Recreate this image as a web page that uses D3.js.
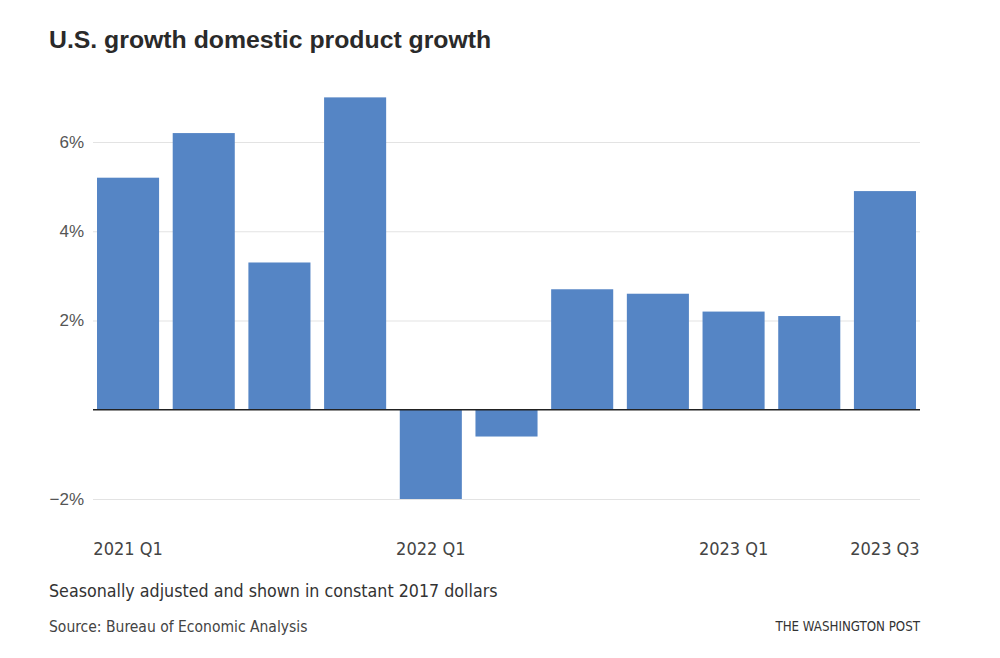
<!DOCTYPE html>
<html><head><meta charset="utf-8">
<script src="https://cdn.jsdelivr.net/npm/d3@7"></script>
<style>
body{margin:0;background:#fff;}
svg{display:block;}
</style></head>
<body>
<svg id="chart" width="1000" height="658"></svg>
<script>
const quarters = ["2021 Q1","2021 Q2","2021 Q3","2021 Q4","2022 Q1","2022 Q2","2022 Q3","2022 Q4","2023 Q1","2023 Q2","2023 Q3"];
const growth = [5.2, 6.2, 3.3, 7.0, -2.0, -0.6, 2.7, 2.6, 2.2, 2.1, 4.9];
const yTicks = [-2, 2, 4, 6];
const xTickLabels = ["2021 Q1","2022 Q1","2023 Q1","2023 Q3"];

const svg = d3.select("#chart");
const condensed = "'Liberation Sans Narrow','DejaVu Sans Condensed','Roboto Condensed',sans-serif";

const x = d3.scaleBand().domain(quarters).range([93, 920]).paddingInner(0.18).paddingOuter(0.053);
const y = d3.scaleLinear().domain([-2, 6]).range([499, 142]);

svg.append("text").attr("x", 49).attr("y", 48)
  .attr("font-family", "'Liberation Sans','Roboto',sans-serif").attr("font-weight", "bold")
  .attr("font-size", 24.8).attr("fill", "#2a2a2a").text("U.S. growth domestic product growth");

// grid
const yAxis = d3.axisLeft(y).tickValues(yTicks).tickFormat(d => (d < 0 ? "\u2212" + Math.abs(d) : d) + "%")
  .tickSize(-(920 - 93)).tickPadding(9);
const gy = svg.append("g").attr("transform", "translate(93,0)").call(yAxis);
gy.select(".domain").remove();
gy.selectAll(".tick line").attr("stroke", "#e3e3e3").attr("stroke-width", 1);
gy.selectAll(".tick text").attr("font-family", "'Liberation Sans',Arial,sans-serif")
  .attr("font-size", 17).attr("fill", "#555");

// bars
svg.append("g").selectAll("rect").data(quarters).join("rect")
  .attr("x", d => x(d))
  .attr("width", x.bandwidth())
  .attr("y", (d, i) => y(Math.max(0, growth[i])))
  .attr("height", (d, i) => Math.abs(y(growth[i]) - y(0)))
  .attr("fill", "#5585c5");

// zero line
svg.append("line").attr("x1", 93).attr("x2", 920).attr("y1", y(0)).attr("y2", y(0))
  .attr("stroke", "#222").attr("stroke-width", 1.5);

// x axis labels
const xAxis = d3.axisBottom(x).tickValues(xTickLabels).tickSize(0).tickPadding(0);
const gx = svg.append("g").attr("transform", "translate(0,542)").call(xAxis);
gx.select(".domain").remove();
gx.selectAll(".tick text").attr("font-family", condensed).attr("font-size", 18).attr("fill", "#444");

svg.append("text").attr("x", 49).attr("y", 597).attr("font-family", condensed)
  .attr("font-size", 17.7).attr("fill", "#333").text("Seasonally adjusted and shown in constant 2017 dollars");
svg.append("text").attr("x", 49).attr("y", 632).attr("font-family", condensed)
  .attr("font-size", 15.5).attr("fill", "#444").text("Source: Bureau of Economic Analysis");
svg.append("text").attr("x", 920).attr("y", 631).attr("text-anchor", "end").attr("font-family", condensed)
  .attr("font-size", 13.2).attr("fill", "#333").text("THE WASHINGTON POST");
</script>
</body></html>
